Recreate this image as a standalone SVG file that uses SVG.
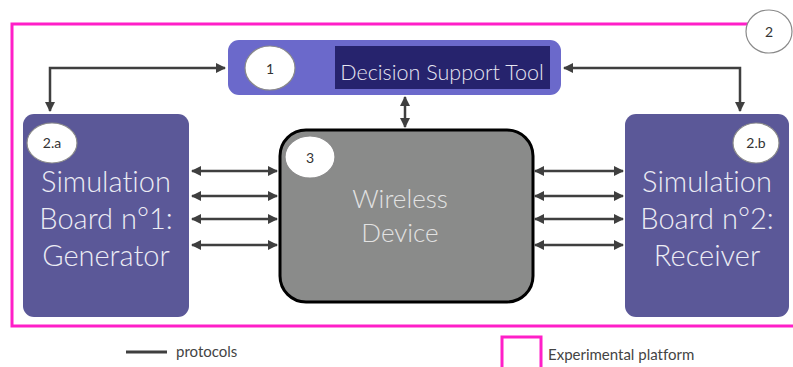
<svg xmlns="http://www.w3.org/2000/svg" width="793" height="367" viewBox="0 0 793 367">
  <style>
    .lbl { font-family: Lato, "Open Sans", "Liberation Sans", sans-serif; font-variant-ligatures: none; font-weight: 300; }
    .big { font-size: 29px; fill: #ececf4; text-anchor: middle; }
    .num { font-size: 14px; fill: #333; text-anchor: middle; font-weight: 400; }
    .tag { fill: #ffffff; stroke: #8a8a8a; stroke-width: 1.2; }
    .link { fill: none; stroke: #3f3f3f; stroke-width: 2.5; }
    .legend { font-size: 15px; fill: #444; font-weight: 400; }
  </style>
  <defs>
    <marker id="tip" viewBox="0 0 10 10" refX="9" refY="5" markerWidth="4" markerHeight="4" orient="auto-start-reverse">
      <path d="M0,0 L10,5 L0,10 Z" fill="#3f3f3f"/>
    </marker>
  </defs>
  <rect width="793" height="367" fill="#ffffff"/>

  <!-- experimental platform frame -->
  <g id="platform">
    <path d="M748,24 H12 V326 H793" fill="none" stroke="#ff1fc8" stroke-width="3"/>
    <ellipse class="tag" cx="769" cy="31.5" rx="23" ry="21.5"/>
    <text class="lbl num" x="769" y="37" font-size="16">2</text>
  </g>

  <!-- connectors -->
  <g id="connectors">
    <path class="link" d="M225,68 H50 V111" marker-start="url(#tip)" marker-end="url(#tip)"/>
    <path class="link" d="M564,68 H740 V111" marker-start="url(#tip)" marker-end="url(#tip)"/>
    <path class="link" d="M405,97 V127" marker-start="url(#tip)" marker-end="url(#tip)"/>
    <path class="link" d="M192,171 H277" marker-start="url(#tip)" marker-end="url(#tip)"/>
    <path class="link" d="M192,196 H277" marker-start="url(#tip)" marker-end="url(#tip)"/>
    <path class="link" d="M192,219 H277" marker-start="url(#tip)" marker-end="url(#tip)"/>
    <path class="link" d="M192,245 H277" marker-start="url(#tip)" marker-end="url(#tip)"/>
    <path class="link" d="M535,171 H623" marker-start="url(#tip)" marker-end="url(#tip)"/>
    <path class="link" d="M535,196 H623" marker-start="url(#tip)" marker-end="url(#tip)"/>
    <path class="link" d="M535,219 H623" marker-start="url(#tip)" marker-end="url(#tip)"/>
    <path class="link" d="M535,245 H623" marker-start="url(#tip)" marker-end="url(#tip)"/>
  </g>

  <!-- 1: decision support tool -->
  <g id="dst">
    <rect x="228" y="40" width="333" height="55" rx="11" fill="#6b69cb"/>
    <rect x="335" y="46" width="215" height="43" fill="#26236d"/>
    <ellipse class="tag" cx="270" cy="68" rx="25" ry="22"/>
    <text class="lbl num" x="270" y="74" font-size="16">1</text>
    <text class="lbl" x="442" y="80" font-size="21.5" fill="#e6e6f2" text-anchor="middle">Decision Support Tool</text>
  </g>

  <!-- 2.a: generator board -->
  <g id="board1">
    <rect x="23" y="114" width="166" height="203" rx="11" fill="#5b5898"/>
    <ellipse class="tag" cx="52" cy="143" rx="25" ry="20"/>
    <text class="lbl num" x="52" y="148">2.a</text>
    <text class="lbl big" x="106" y="192">Simulation</text>
    <text class="lbl big" x="106" y="229">Board n°1:</text>
    <text class="lbl big" x="106" y="266">Generator</text>
  </g>

  <!-- 2.b: receiver board -->
  <g id="board2">
    <rect x="625" y="114" width="164" height="203" rx="11" fill="#5b5898"/>
    <ellipse class="tag" cx="756" cy="143" rx="23" ry="20"/>
    <text class="lbl num" x="756" y="148">2.b</text>
    <text class="lbl big" x="707" y="192">Simulation</text>
    <text class="lbl big" x="707" y="229">Board n°2:</text>
    <text class="lbl big" x="707" y="266">Receiver</text>
  </g>

  <!-- 3: wireless device -->
  <g id="device">
    <rect x="280" y="130" width="253" height="172" rx="26" fill="#8a8b8a" stroke="#000" stroke-width="3"/>
    <ellipse class="tag" cx="310" cy="157" rx="25" ry="21"/>
    <text class="lbl num" x="310" y="163" font-size="16">3</text>
    <text class="lbl" x="400" y="208" font-size="26" fill="#e2e2e2" text-anchor="middle">Wireless</text>
    <text class="lbl" x="400" y="242" font-size="26" fill="#e2e2e2" text-anchor="middle">Device</text>
  </g>

  <!-- legend -->
  <g id="legend">
    <line x1="126" y1="352" x2="167" y2="352" stroke="#3f3f3f" stroke-width="3"/>
    <text class="lbl legend" x="176" y="357">protocols</text>
    <path d="M502,367 V337 H541 V367" fill="none" stroke="#ff1fc8" stroke-width="3"/>
    <text class="lbl legend" x="548" y="360">Experimental platform</text>
  </g>
</svg>
